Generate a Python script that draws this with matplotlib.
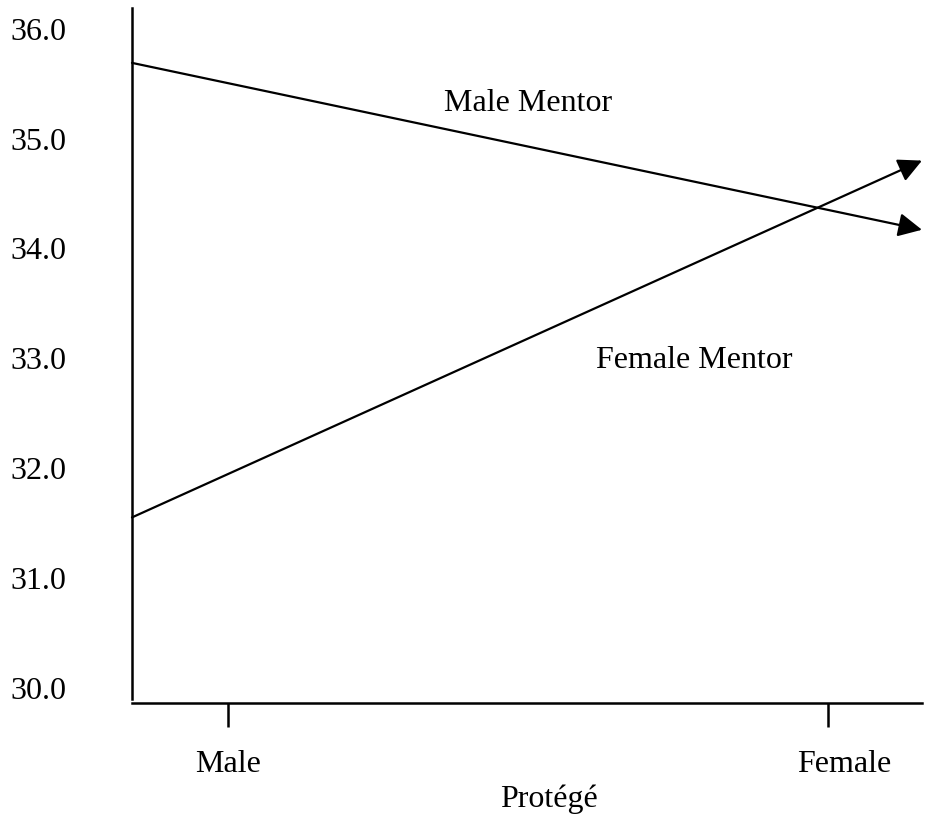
import matplotlib.pyplot as plt
import matplotlib.transforms as mtransforms

# data
groups = ["Male", "Female"]
male_mentor = [35.69, 34.17]
female_mentor = [31.55, 34.80]
y_ticks = [30.0, 31.0, 32.0, 33.0, 34.0, 35.0, 36.0]

plt.rcParams['font.family'] = ['Liberation Serif', 'DejaVu Serif']
fs = 23

fig = plt.figure(figsize=(9.38, 8.14), dpi=100)
ax = fig.add_axes([0.1407, 0.1364, 0.8422, 0.8538])

x_left, x_right = -0.16, 1.157
ax.set_xlim(x_left, x_right)
ax.set_ylim(29.86, 36.19)

# lines run from the y axis to the right edge, with arrow heads
for vals in (male_mentor, female_mentor):
    ax.annotate("", xy=(x_right, vals[1]), xytext=(x_left, vals[0]),
                xycoords='data', textcoords='data', annotation_clip=False,
                arrowprops=dict(arrowstyle='-|>', color='black', lw=1.6,
                                mutation_scale=36, shrinkA=0, shrinkB=0))

ax.text(0.50, 35.253, "Male Mentor", ha='center', va='baseline', fontsize=fs)
ax.text(0.7775, 32.913, "Female Mentor", ha='center', va='baseline', fontsize=fs)

for s in ['top', 'right']:
    ax.spines[s].set_visible(False)
ax.spines['left'].set_linewidth(1.8)
ax.spines['bottom'].set_linewidth(1.8)
ax.spines['left'].set_bounds(29.9, 36.19)

ax.set_yticks(y_ticks)
ax.set_yticklabels(["%.1f" % v for v in y_ticks], fontsize=fs)
ax.tick_params(axis='y', length=0, pad=47)

ax.set_xticks([0, 1])
ax.set_xticklabels(groups, fontsize=fs)
ax.tick_params(axis='x', length=17, width=1.8, direction='out', pad=17)
# "Female" label sits a bit right of its tick
lbl = ax.get_xticklabels()[1]
lbl.set_transform(lbl.get_transform() + mtransforms.ScaledTranslation(16 / 100, 0, fig.dpi_scale_trans))

fig.text(0.585, 0.0086, "Protégé", ha='center', va='baseline', fontsize=fs)

fig.savefig("out.png", dpi=100)
